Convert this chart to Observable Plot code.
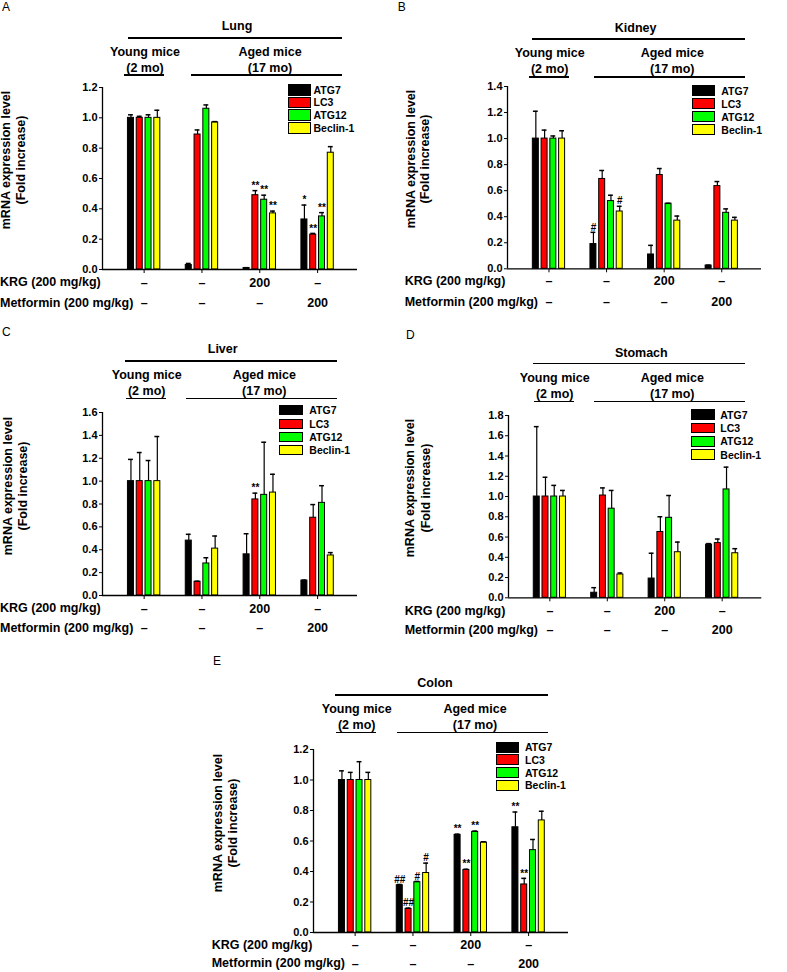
<!DOCTYPE html>
<html><head><meta charset="utf-8">
<script src="https://cdn.jsdelivr.net/npm/d3@7"></script>
<script src="https://cdn.jsdelivr.net/npm/@observablehq/plot@0.6"></script>
<style>
body{margin:0;background:#fff;}
#fig{position:relative;width:787px;height:972px;overflow:hidden;font-family:"Liberation Sans",Arial,sans-serif;color:#000;background:#fff;}
#fig div{position:absolute;}
</style>
</head><body><div id="fig"></div>
<script>
// ---------- data ----------
const genes = ["ATG7", "LC3", "ATG12", "Beclin-1"];
const geneColors = ["#000000", "#ff0000", "#00ff00", "#ffff00"];
const groups = ["Young (2 mo)", "Aged (17 mo)", "Aged + KRG", "Aged + Metformin"];
const krgRow = ["–", "–", "200", "–"];
const metforminRow = ["–", "–", "–", "200"];
const krgLabel = "KRG (200 mg/kg)";
const metforminLabel = "Metformin (200 mg/kg)";
const yTitle1 = "mRNA expression level";
const yTitle2 = "(Fold increase)";
const youngLabel = ["Young mice", "(2 mo)"];
const agedLabel = ["Aged mice", "(17 mo)"];

// Lung
const lungMean = [[1.00,1.00,1.00,1.00],[0.03,0.89,1.06,0.97],[0.01,0.49,0.46,0.37],[0.33,0.23,0.35,0.77]];
const lungSem  = [[0.02,0.01,0.02,0.05],[0.01,0.03,0.025,0.005],[0.002,0.03,0.03,0.015],[0.095,0.008,0.025,0.04]];
const lungSig  = [["","","",""],["","","",""],["","**","**","**"],["*","**","**",""]];
// Kidney
const kidneyMean = [[1.00,1.00,1.00,1.00],[0.19,0.69,0.52,0.44],[0.11,0.72,0.50,0.37],[0.025,0.635,0.43,0.37]];
const kidneySem  = [[0.21,0.065,0.02,0.06],[0.09,0.065,0.045,0.04],[0.07,0.05,0.003,0.035],[0.003,0.035,0.03,0.025]];
const kidneySig  = [["","","",""],["#","","","#"],["","","",""],["","","",""]];
// Liver
const liverMean = [[1.00,1.00,1.00,1.00],[0.48,0.12,0.28,0.41],[0.36,0.84,0.88,0.90],[0.13,0.68,0.81,0.35]];
const liverSem  = [[0.19,0.25,0.18,0.39],[0.055,0.005,0.05,0.11],[0.18,0.055,0.46,0.16],[0.005,0.115,0.15,0.025]];
const liverSig  = [["","","",""],["","","",""],["","**","",""],["","","",""]];
// Stomach
const stomachMean = [[1.00,1.00,1.00,1.00],[0.05,1.01,0.88,0.23],[0.19,0.65,0.79,0.45],[0.525,0.54,1.07,0.44]];
const stomachSem  = [[0.69,0.19,0.11,0.06],[0.05,0.075,0.18,0.015],[0.25,0.15,0.22,0.10],[0.01,0.04,0.22,0.045]];
const stomachSig  = [["","","",""],["","","",""],["","","",""],["","","",""]];
// Colon
const colonMean = [[1.00,1.00,1.00,1.00],[0.31,0.155,0.33,0.39],[0.64,0.41,0.66,0.59],[0.69,0.315,0.54,0.735]];
const colonSem  = [[0.06,0.05,0.12,0.05],[0.005,0.005,0.005,0.065],[0.005,0.005,0.005,0.005],[0.10,0.04,0.07,0.06]];
const colonSig  = [["","","",""],["##","##","#","#"],["**","**","**",""],["**","**","",""]];

// ---------- layout ----------
const FONT = '"Liberation Sans", Arial, sans-serif';
const X_DOMAIN = [-0.72, 3.69];
const BAR_STEP = 0.152, HALF_BAR = 0.052, CAP = 0.042;

const panels = [
 {letter:"A", title:"Lung", mean:lungMean, sem:lungSem, sig:lungSig, ymax:1.2,
  fx:102, fr:357, fy:87, fb:269,
  L:{letter:[2,7], title:[237,26], titleLine:[128,342,38], young:[145,52,68], youngLine:[124,164,75],
     aged:[270,52,68], agedLine:[191,342,75], legend:{x:288,y:84,w:23,h:11.5,step:12.7,tx:313.5},
     yTitle:{x1:6,x2:21,y:160}, rows:{x:0,y1:282,y2:302.7}}},
 {letter:"B", title:"Kidney", mean:kidneyMean, sem:kidneySem, sig:kidneySig, ymax:1.4,
  fx:507.3, fr:761.3, fy:86, fb:268.3,
  L:{letter:[397.7,7], title:[635.7,28], titleLine:[532.3,744.7,39], young:[549.7,53,69], youngLine:[529,569,77],
     aged:[672.3,53,69], agedLine:[594,744.7,77], legend:{x:692,y:85,w:22.7,h:11,step:13,tx:721.3},
     yTitle:{x1:410.5,x2:424.7,y:159}, rows:{x:404.7,y1:280.7,y2:301.7}}},
 {letter:"C", title:"Liver", mean:liverMean, sem:liverSem, sig:liverSig, ymax:1.6,
  fx:102.3, fr:357.3, fy:411.7, fb:594.7,
  L:{letter:[2,332], title:[222.7,349.3], titleLine:[125,337.3,361], young:[146.7,374.7,390.7], youngLine:[126,166,398.7],
     aged:[264.3,374.7,390.7], agedLine:[185.7,337.3,398.7], legend:{x:279.3,y:405.3,w:24,h:10,step:13.3,tx:309.3},
     yTitle:{x1:7.5,x2:22.5,y:486}, rows:{x:0,y1:608,y2:627.5}}},
 {letter:"D", title:"Stomach", mean:stomachMean, sem:stomachSem, sig:stomachSig, ymax:1.8,
  fx:508, fr:761.3, fy:415, fb:597.3,
  L:{letter:[406,335], title:[641.3,352.7], titleLine:[533,744.7,363.3], young:[554.7,378.3,394.3], youngLine:[534,573.7,401.7],
     aged:[672.3,378.3,394.3], agedLine:[594,744.7,401.7], legend:{x:691.3,y:409.3,w:23.4,h:10.7,step:13.3,tx:720.3},
     yTitle:{x1:410.3,x2:426,y:488}, rows:{x:404.7,y1:610.7,y2:630}}},
 {letter:"E", title:"Colon", mean:colonMean, sem:colonSem, sig:colonSig, ymax:1.2,
  fx:313.3, fr:568.3, fy:749.3, fb:932.3,
  L:{letter:[213,661], title:[435,683.3], titleLine:[335,547.7,695], young:[356.7,709,725], youngLine:[336,376,732.7],
     aged:[475,709,725], agedLine:[396.7,547.7,732.7], legend:{x:496,y:741.7,w:23.3,h:11,step:12.7,tx:525},
     yTitle:{x1:218.3,x2:233.3,y:823}, rows:{x:211.7,y1:945,y2:963.3}}}
];

const fig = document.getElementById("fig");

function addText(str, x, y, {anchor="middle", size=12.5, weight="bold", rotate=0} = {}) {
  const d = document.createElement("div");
  d.textContent = str;
  const tx = anchor === "middle" ? "-50%" : anchor === "end" ? "-100%" : "0";
  d.style.cssText = `left:${x}px;top:${y}px;font-size:${size}px;font-weight:${weight};line-height:1;white-space:nowrap;` +
    `transform:translate(${tx},-50%)${rotate ? ` rotate(${rotate}deg)` : ""};`;
  fig.appendChild(d);
}
function addLine(x1, x2, y, t = 1.3) {
  const d = document.createElement("div");
  d.style.cssText = `left:${x1}px;top:${y - t / 2}px;width:${x2 - x1}px;height:${t}px;background:#000;`;
  fig.appendChild(d);
}
function addSwatch(x, y, w, h, color) {
  const d = document.createElement("div");
  d.style.cssText = `left:${x}px;top:${y}px;width:${w}px;height:${h}px;background:${color};border:1px solid #000;box-sizing:border-box;`;
  fig.appendChild(d);
}

function drawPanel(p) {
  const L = p.L;
  addText(p.letter, L.letter[0], L.letter[1], {anchor: "start", size: 12, weight: "normal"});
  addText(p.title, L.title[0], L.title[1]);
  addLine(L.titleLine[0], L.titleLine[1], L.titleLine[2]);
  addText(youngLabel[0], L.young[0], L.young[1]);
  addText(youngLabel[1], L.young[0], L.young[2]);
  addLine(L.youngLine[0], L.youngLine[1], L.youngLine[2]);
  addText(agedLabel[0], L.aged[0], L.aged[1]);
  addText(agedLabel[1], L.aged[0], L.aged[2]);
  addLine(L.agedLine[0], L.agedLine[1], L.agedLine[2]);
  addText(yTitle1, L.yTitle.x1, L.yTitle.y, {rotate: -90});
  addText(yTitle2, L.yTitle.x2, L.yTitle.y, {rotate: -90});
  addText(krgLabel, L.rows.x, L.rows.y1, {anchor: "start"});
  addText(metforminLabel, L.rows.x, L.rows.y2, {anchor: "start"});
  const lg = L.legend;
  genes.forEach((g, i) => {
    addSwatch(lg.x, lg.y + i * lg.step, lg.w, lg.h, geneColors[i]);
    addText(g, lg.tx, lg.y + i * lg.step + lg.h / 2, {anchor: "start", size: 10.5});
  });

  // chart
  const mL = 40, mR = 12, mT = 10, mB = 46;
  const w = p.fr - p.fx, h = p.fb - p.fy;
  const rows = [];
  p.mean.forEach((g, gi) => g.forEach((v, ki) => rows.push({
    group: groups[gi], gene: genes[ki], gi, ki, mean: v, sem: p.sem[gi][ki], sig: p.sig[gi][ki]
  })));
  const xc = d => d.gi + (d.ki - 1.5) * BAR_STEP;
  const top = d => d.mean + d.sem;
  const dy1 = L.rows.y1 - p.fb, dy2 = L.rows.y2 - p.fb;
  const svg = Plot.plot({
    width: w + mL + mR, height: h + mT + mB,
    marginLeft: mL, marginRight: mR, marginTop: mT, marginBottom: mB,
    style: {fontFamily: FONT, fontSize: "11px", fontWeight: "bold", color: "black", background: "transparent", overflow: "visible"},
    x: {domain: X_DOMAIN, ticks: [0, 1, 2, 3], tickFormat: () => "", tickSize: 4, label: null},
    y: {domain: [0, p.ymax], ticks: d3.range(0, p.ymax + 1e-6, 0.2), tickFormat: d3.format(".1f"), tickSize: 3, tickPadding: 2, label: null},
    color: {domain: genes, range: geneColors},
    marks: [
      Plot.rect(rows, {x1: d => xc(d) - HALF_BAR, x2: d => xc(d) + HALF_BAR, y1: () => 0, y2: "mean", fill: "gene", stroke: "black", strokeWidth: 1}),
      Plot.ruleX(rows, {x: xc, y1: "mean", y2: top, stroke: "black", strokeWidth: 1.2}),
      Plot.ruleY(rows, {y: top, x1: d => xc(d) - CAP, x2: d => xc(d) + CAP, stroke: "black", strokeWidth: 1.5}),
      Plot.ruleX([X_DOMAIN[0]], {y1: () => 0, y2: () => p.ymax, stroke: "black", strokeWidth: 1.3}),
      Plot.ruleY([0], {stroke: "black", strokeWidth: 1.3}),
      Plot.text(rows.filter(d => d.sig), {x: xc, y: top, text: "sig", dy: -5, fontSize: 10}),
      Plot.text(groups, {x: (d, i) => i, y: () => 0, text: (d, i) => krgRow[i], dy: dy1, fontSize: 12.5}),
      Plot.text(groups, {x: (d, i) => i, y: () => 0, text: (d, i) => metforminRow[i], dy: dy2, fontSize: 12.5})
    ]
  });
  const wrap = document.createElement("div");
  wrap.style.cssText = `left:${p.fx - mL}px;top:${p.fy - mT}px;`;
  wrap.appendChild(svg);
  fig.appendChild(wrap);
}

panels.forEach(drawPanel);
</script>
</body></html>
